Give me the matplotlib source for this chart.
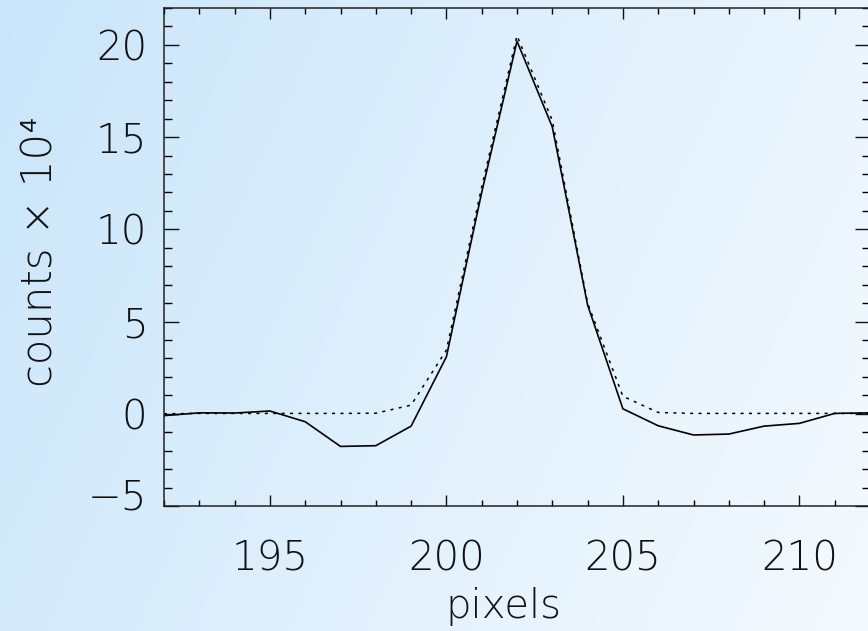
import matplotlib.pyplot as plt
import numpy as np
import matplotlib.transforms as mtransforms
from matplotlib.ticker import MultipleLocator
from matplotlib import font_manager

# data
pix = [192, 193, 194, 195, 196, 197, 198, 199, 200, 201, 202,
       203, 204, 205, 206, 207, 208, 209, 210, 211, 212]
obs = [-0.1, 0.05, 0.04, 0.15, -0.43, -1.77, -1.73, -0.67, 3.09, 12.0, 20.2,
       15.55, 5.9, 0.27, -0.65, -1.15, -1.1, -0.67, -0.52, 0.02, 0.05]
model = [0.0, 0.02, 0.02, 0.02, 0.02, 0.02, 0.03, 0.47, 3.45, 12.3, 20.5,
         15.9, 6.0, 0.95, 0.07, 0.02, 0.02, 0.02, 0.02, 0.02, 0.02]
xticks = [195, 200, 205, 210]
yticks = [-5, 0, 5, 10, 15, 20]

# use a thin wide font if one exists, else Roboto light
names = [(f.name, f.weight) for f in font_manager.fontManager.ttflist]
if ('DejaVu Sans', 200) in names:
    fam, wt = 'DejaVu Sans', 200
else:
    fam, wt = 'Roboto', 300
plt.rcParams['font.family'] = [fam, 'DejaVu Sans']
fs = 29
tc = '#111111'

fig = plt.figure(figsize=(8.68, 6.31), dpi=100)

# background gradient, blue top-left to near white bottom-right
bg = fig.add_axes([0, 0, 1, 1], zorder=-1)
gx, gy = np.meshgrid(np.linspace(0, 1, 200), np.linspace(0, 1, 200))
t = 0.75 * gx + 0.25 * gy
c0 = np.array([0.79, 0.90, 0.98])
c1 = np.array([0.96, 0.98, 1.0])
img = c0[None, None, :] * (1 - t[..., None]) + c1[None, None, :] * t[..., None]
bg.imshow(img, aspect='auto', extent=[0, 1, 0, 1], origin='upper')
bg.axis('off')

ax = fig.add_axes([164/868, 1 - 506/631, (870 - 164)/868, (506 - 8)/631])
ax.set_facecolor('none')

ax.plot(pix, obs, color='black', lw=1.2)
ax.plot(pix, model, color='black', lw=1.1, linestyle=(0, (2, 3.5)))

ax.set_xlim(192, 212)
ax.set_ylim(-5, 22)
ax.set_xticks(xticks)
ax.set_yticks(yticks)
ax.set_yticklabels(['\u22125' if v == -5 else str(v) for v in yticks])
ax.xaxis.set_minor_locator(MultipleLocator(1))
ax.yaxis.set_minor_locator(MultipleLocator(1))

for s in ax.spines.values():
    s.set_color('#222222')
    s.set_linewidth(1.1)

ax.tick_params(axis='x', which='major', direction='in', length=8, width=1,
               top=True, bottom=True, pad=24, labelsize=fs, colors=tc)
ax.tick_params(axis='x', which='minor', direction='in', length=4, width=1,
               top=True, bottom=True)
ax.tick_params(axis='y', which='major', direction='in', length=11, width=1,
               left=True, right=True, pad=12, labelsize=fs, colors=tc)
ax.tick_params(axis='y', which='minor', direction='in', length=5.5, width=1,
               left=True, right=True)
for lab in ax.get_xticklabels() + ax.get_yticklabels():
    lab.set_fontweight(wt)

# the bottom y label sits a bit above its tick in the reference
lab0 = ax.get_yticklabels()[0]
lab0.set_transform(lab0.get_transform() +
                   mtransforms.ScaledTranslation(0, 12/100, fig.dpi_scale_trans))

fig.text(503/868, 1 - 606/631, 'pixels', fontsize=fs, fontweight=wt, color=tc,
         ha='center', va='center')
fig.text(40/868, 1 - 252/631, 'counts \u00d7 10\u2074', fontsize=fs + 1,
         fontweight=wt, color=tc, rotation=90, ha='center', va='center')

fig.savefig('out.png', dpi=100)
